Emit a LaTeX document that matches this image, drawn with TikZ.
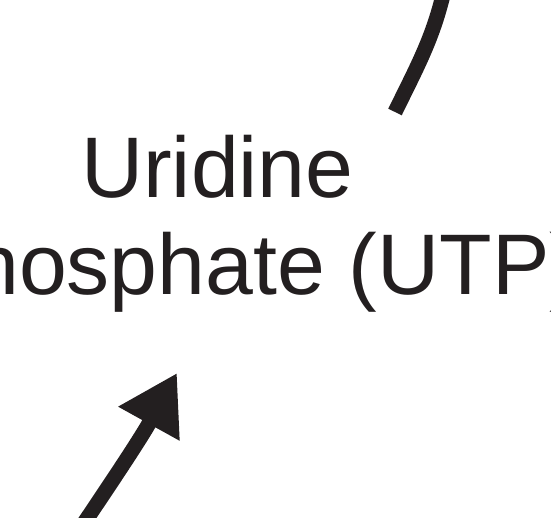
\documentclass[tikz,border=0pt]{standalone}
\usepackage{fontspec}
\setmainfont{Liberation Sans}
\usepackage{tikz}
\usetikzlibrary{arrows.meta}
\definecolor{inkblack}{HTML}{231F20}
\tikzset{
  labeltext/.style={
    font=\fontsize{86}{97}\selectfont, text=inkblack,
    inner sep=0pt, anchor=base west
  },
  cycleline/.style={line width=15pt, draw=inkblack},
  cyclearrow/.style={
    cycleline, -{Triangle[length=58pt, width=66pt]}
  },
}
\begin{document}
\begin{tikzpicture}[x=1pt, y=1pt]
\useasboundingbox (0,0) rectangle (551,517);
\clip (0,0) rectangle (551,517);
\node[labeltext] (uridine) at (81,319) {Uridine};
\node[labeltext] (phosphate) at (-29,222) {hosphate (UTP)};
\coordinate (arcstart) at (395,405);
\coordinate (arcend) at (446,535);
\coordinate (arrowfoot) at (80,-12);
\coordinate (arrowtip) at (177,144);
\draw[cycleline] (arcstart) to[out=64, in=-102] (arcend);
\draw[cyclearrow] (arrowfoot) to[out=56, in=-119] (arrowtip);
\end{tikzpicture}
\end{document}
